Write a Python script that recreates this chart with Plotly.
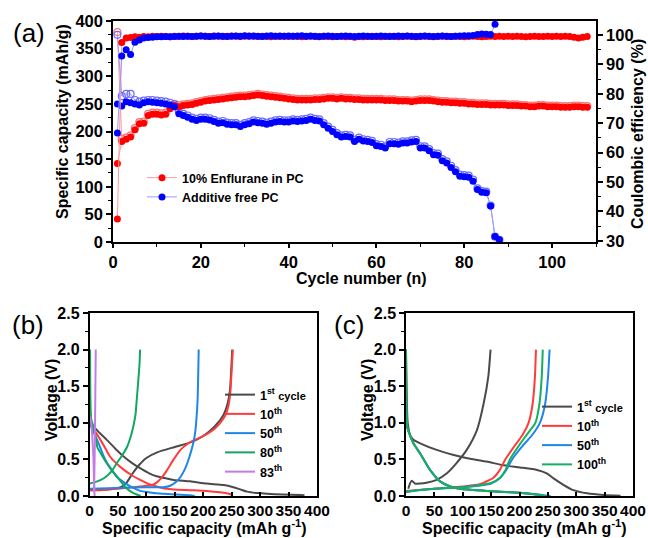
import plotly.graph_objects as go

FONT = "Liberation Sans"

# ---------------- Panel (a) data ----------------
cycles_red = list(range(1, 109))
red_charge = [142,182,186,190,203,214,215,229,231,231,
              230,231,241,247,245,247,248,249,251,253,
              255,256,257,258,259,260,261,262,263,263,
              264,265,266,265,264,263,262,261,260,259,
              258,257,257,257,257,258,258,259,260,260,
              259,260,259,259,258,258,257,257,257,257,
              257,256,256,256,255,255,255,254,255,256,
              256,256,255,254,253,253,252,252,251,251,
              250,250,249,249,249,248,248,248,248,247,
              247,247,246,246,245,245,246,246,245,245,
              245,244,244,244,245,245,244,244]
red_discharge = [380,187,189,193,206,217,218,232,234,234,
                 233,234,244,250,248,249,250,251,253,255,
                 257,258,259,260,261,262,263,264,265,265,
                 266,267,268,267,266,265,264,263,262,261,
                 260,259,259,259,259,260,260,261,262,262,
                 261,262,261,261,260,260,259,259,259,259,
                 259,258,258,258,257,257,257,256,257,258,
                 258,258,257,256,255,255,254,254,253,253,
                 252,252,251,251,251,250,250,250,250,249,
                 249,249,248,248,247,247,248,248,247,247,
                 247,246,246,246,247,247,246,246]
red_ce = [37.4,97.5,99.0,99.2,99.4,99.3,99.5,99.4,99.6,99.5,
          99.6,99.5,99.4,99.6,99.5,99.7,99.6,99.5,99.6,99.7,
          99.6,99.5,99.7,99.6,99.5,99.6,99.7,99.6,99.5,99.6,
          99.7,99.6,99.5,99.6,99.5,99.4,99.6,99.5,99.6,99.5,
          99.6,99.5,99.4,99.5,99.6,99.5,99.4,99.6,99.5,99.4,
          99.5,99.6,99.4,99.5,99.3,99.5,99.4,99.5,99.6,99.5,
          99.4,99.5,99.6,99.5,99.4,99.5,99.6,99.5,99.4,99.5,
          99.6,99.5,99.4,99.5,99.6,99.5,99.5,99.6,99.5,99.4,
          99.5,99.6,99.5,99.4,99.5,99.6,99.5,99.6,99.5,99.6,
          99.5,99.6,99.5,99.4,99.5,99.6,99.5,99.5,99.6,99.5,
          99.6,99.5,99.6,99.5,99.3,99.0,99.3,99.5]

cycles_blue = list(range(1, 89))
blue_charge = [250,246,254,252,250,248,252,254,253,252,
               251,250,248,245,232,229,226,222,220,222,
               222,221,218,215,216,213,212,212,209,212,
               214,217,216,215,213,215,217,218,217,217,
               219,218,219,220,222,220,219,212,206,200,
               194,190,191,190,182,186,183,182,180,174,
               173,170,178,178,177,179,179,181,182,170,
               170,165,158,157,147,143,135,127,119,118,
               117,110,95,90,89,65,10,4]
blue_discharge = [375,264,268,268,257,254,256,257,257,256,
                  255,254,252,249,236,232,229,225,223,225,
                  225,224,221,218,219,216,215,215,212,215,
                  217,220,219,218,216,218,220,221,220,220,
                  222,221,222,223,225,223,222,215,209,203,
                  197,193,194,193,185,189,186,185,183,177,
                  176,173,181,181,180,182,182,184,185,173,
                  173,168,161,160,150,146,138,130,122,121,
                  120,113,97,92,91,66,9.6,4]
cycles_blue_ce = list(range(1, 88))
blue_ce = [66.7,92.9,95.0,93.4,97.6,98.3,99.0,99.2,99.3,99.4,
           99.4,99.5,99.4,99.5,99.6,99.5,99.6,99.5,99.6,99.7,
           99.6,99.5,99.6,99.7,99.6,99.5,99.6,99.7,99.6,99.8,
           99.6,99.7,99.6,99.5,99.7,99.8,99.6,99.7,99.6,99.7,
           99.6,99.7,99.8,99.6,99.7,99.6,99.5,99.6,99.7,99.6,
           99.5,99.6,99.7,99.6,99.5,99.6,99.7,99.6,99.5,99.6,
           99.7,99.6,99.5,99.6,99.7,99.6,99.7,99.6,99.5,99.6,
           99.7,99.6,99.5,99.6,99.7,99.6,99.5,99.6,99.7,99.8,
           99.8,99.9,100.2,100.4,100.3,100.2,103.7]

# ---------------- Panel (b) data: additive free PC ----------------
b_names = ["1<sup>st</sup> <span style='font-size:11px'>cycle</span>", "10<sup>th</sup>", "50<sup>th</sup>", "80<sup>th</sup>", "83<sup>th</sup>"]
b_colors = ["#4a4a4a", "#ff3b3b", "#1f86e8", "#10a860", "#c37be6"]

b1_dis_cap = [0, 7, 18, 30, 45, 60, 75, 89, 105, 118, 135, 148, 177, 206, 236, 253, 265, 277, 295, 312, 340, 371, 378]
b1_dis_v = [1.05, 0.95, 0.86, 0.77, 0.65, 0.54, 0.45, 0.38, 0.31, 0.27, 0.24, 0.22, 0.20, 0.17, 0.15, 0.12, 0.09, 0.06, 0.04, 0.03, 0.02, 0.012, 0.01]
b1_chg_cap = [0, 30, 55, 65, 75, 88, 100, 120, 150, 180, 200, 220, 235, 243, 247, 249, 251]
b1_chg_v = [0.08, 0.09, 0.12, 0.18, 0.30, 0.43, 0.52, 0.60, 0.67, 0.74, 0.82, 0.95, 1.10, 1.27, 1.45, 1.7, 2.0]

b10_dis_cap = [0, 10, 19, 28, 36, 48, 60, 75, 89, 105, 118, 135, 148, 180, 206, 230, 245, 252]
b10_dis_v = [1.0, 0.88, 0.77, 0.65, 0.54, 0.44, 0.36, 0.28, 0.22, 0.16, 0.13, 0.10, 0.09, 0.08, 0.07, 0.05, 0.03, 0.01]
b10_chg_cap = [0, 19, 50, 89, 110, 119, 128, 136, 148, 160, 172, 183, 195, 207, 220, 231, 240, 245, 248, 250, 252]
b10_chg_v = [0.08, 0.08, 0.10, 0.13, 0.15, 0.19, 0.26, 0.35, 0.50, 0.63, 0.71, 0.76, 0.80, 0.85, 0.92, 1.01, 1.12, 1.26, 1.45, 1.72, 2.0]

b50_dis_cap = [0, 8, 16, 23, 31, 40, 48, 60, 72, 89, 105, 118, 150, 177, 185]
b50_dis_v = [1.0, 0.86, 0.72, 0.58, 0.45, 0.35, 0.26, 0.19, 0.13, 0.07, 0.05, 0.036, 0.02, 0.01, 0.0]
b50_chg_cap = [0, 50, 100, 130, 142, 152, 160, 166, 171, 175, 179, 183, 186, 188, 190, 191, 192]
b50_chg_v = [0.10, 0.11, 0.12, 0.12, 0.14, 0.19, 0.26, 0.34, 0.43, 0.52, 0.62, 0.74, 0.88, 1.05, 1.3, 1.6, 2.0]

b80_dis_cap = [1, 1.5, 3, 8, 12, 14, 20, 30, 40, 48, 57, 66, 75, 83, 90]
b80_dis_v = [2.0, 1.4, 1.05, 0.92, 0.75, 0.66, 0.58, 0.45, 0.34, 0.27, 0.18, 0.10, 0.05, 0.02, 0.0]
b80_chg_cap = [0, 10, 20, 30, 40, 48, 57, 66, 72, 77, 81, 83, 86, 88, 89]
b80_chg_v = [0.17, 0.19, 0.22, 0.27, 0.35, 0.45, 0.55, 0.67, 0.80, 0.95, 1.12, 1.31, 1.6, 1.81, 2.0]

b83_dis_cap = [0, 3, 5, 7, 8, 9]
b83_dis_v = [1.1, 1.0, 0.8, 0.5, 0.2, 0.0]
b83_chg_cap = [8, 9, 10, 10.5, 11]
b83_chg_v = [0.05, 0.5, 1.2, 1.6, 2.0]

# ---------------- Panel (c) data: 10% enflurane in PC ----------------
c_names = ["1<sup>st</sup> <span style='font-size:11px'>cycle</span>", "10<sup>th</sup>", "50<sup>th</sup>", "100<sup>th</sup>"]
c_colors = ["#4a4a4a", "#ff3b3b", "#1f86e8", "#12b060"]

c1_dis_cap = [0, 1, 3, 8, 13, 25, 54, 84, 113, 142, 172, 201, 231, 248, 260, 278, 295, 319, 348, 378]
c1_dis_v = [2.0, 1.5, 1.0, 0.82, 0.77, 0.72, 0.63, 0.56, 0.51, 0.47, 0.42, 0.39, 0.355, 0.31, 0.24, 0.15, 0.08, 0.036, 0.014, 0.005]
c1_chg_cap = [4, 7, 10, 13, 16, 25, 36, 54, 72, 89, 107, 125, 137, 145, 149]
c1_chg_v = [0.10, 0.17, 0.21, 0.19, 0.17, 0.17, 0.18, 0.22, 0.31, 0.45, 0.63, 0.90, 1.27, 1.63, 2.0]

c10_dis_cap = [0, 0.5, 2, 6, 13, 25, 42, 60, 78, 95, 142, 201, 230, 240]
c10_dis_v = [2.0, 1.3, 0.95, 0.85, 0.72, 0.58, 0.36, 0.2, 0.13, 0.1, 0.07, 0.045, 0.02, 0.01]
c10_chg_cap = [0, 50, 100, 130, 154, 165, 175, 190, 205, 216, 223, 227, 229]
c10_chg_v = [0.07, 0.10, 0.13, 0.16, 0.25, 0.35, 0.5, 0.67, 0.83, 1.0, 1.25, 1.6, 2.0]

c50_dis_cap = [0, 0.5, 2, 6, 13, 25, 42, 60, 78, 95, 142, 201, 240, 255]
c50_dis_v = [2.0, 1.3, 0.95, 0.85, 0.72, 0.58, 0.36, 0.2, 0.13, 0.1, 0.07, 0.04, 0.015, 0.0]
c50_chg_cap = [0, 20, 50, 100, 150, 166, 177, 187, 205, 222, 236, 245, 250, 253]
c50_chg_v = [0.05, 0.08, 0.10, 0.12, 0.17, 0.25, 0.36, 0.5, 0.68, 0.83, 1.0, 1.25, 1.6, 2.0]

c100_dis_cap = [0, 0.5, 2, 6, 13, 25, 42, 60, 78, 95, 142, 201, 235, 247]
c100_dis_v = [2.0, 1.3, 0.95, 0.85, 0.72, 0.58, 0.36, 0.2, 0.13, 0.1, 0.07, 0.045, 0.015, 0.0]
c100_chg_cap = [0, 50, 100, 150, 166, 175, 183, 200, 215, 228, 235, 239, 241]
c100_chg_v = [0.06, 0.10, 0.12, 0.18, 0.25, 0.35, 0.5, 0.7, 0.86, 1.0, 1.25, 1.6, 2.0]

b_curves = [(b1_dis_cap, b1_dis_v, b1_chg_cap, b1_chg_v),
            (b10_dis_cap, b10_dis_v, b10_chg_cap, b10_chg_v),
            (b50_dis_cap, b50_dis_v, b50_chg_cap, b50_chg_v),
            (b80_dis_cap, b80_dis_v, b80_chg_cap, b80_chg_v),
            (b83_dis_cap, b83_dis_v, b83_chg_cap, b83_chg_v)]
c_curves = [(c1_dis_cap, c1_dis_v, c1_chg_cap, c1_chg_v),
            (c10_dis_cap, c10_dis_v, c10_chg_cap, c10_chg_v),
            (c50_dis_cap, c50_dis_v, c50_chg_cap, c50_chg_v),
            (c100_dis_cap, c100_dis_v, c100_chg_cap, c100_chg_v)]

W, H = 648, 538
def px(x):
    return x / W
def py(y):
    return 1 - y / H

fig = go.Figure()

RED, RED_L, RED_O = "#ff0000", "#ff9a9a", "#ff7070"
BLUE, BLUE_L, BLUE_O = "#0000ff", "#9a9aff", "#6b6bff"
MS = 7

# open symbols (discharge capacity) first, behind
fig.add_trace(go.Scatter(x=cycles_red, y=red_discharge, mode="lines+markers",
                         line=dict(color=RED_L, width=1),
                         marker=dict(symbol="circle-open", size=MS, color=RED_O, line=dict(width=1.2)),
                         showlegend=False, cliponaxis=False, xaxis="x", yaxis="y"))
fig.add_trace(go.Scatter(x=cycles_blue, y=blue_discharge, mode="lines+markers",
                         line=dict(color=BLUE_L, width=1),
                         marker=dict(symbol="circle-open", size=MS, color=BLUE_O, line=dict(width=1.2)),
                         showlegend=False, cliponaxis=False, xaxis="x", yaxis="y"))
# filled (charge capacity)
fig.add_trace(go.Scatter(x=cycles_red, y=red_charge, mode="lines+markers", name="10% Enflurane in PC",
                         line=dict(color=RED_L, width=1),
                         marker=dict(symbol="circle", size=MS, color=RED),
                         legend="legend", cliponaxis=False, xaxis="x", yaxis="y"))
fig.add_trace(go.Scatter(x=cycles_blue, y=blue_charge, mode="lines+markers", name="Additive free PC",
                         line=dict(color=BLUE_L, width=1),
                         marker=dict(symbol="circle", size=MS, color=BLUE),
                         legend="legend", cliponaxis=False, xaxis="x", yaxis="y"))
# coulombic efficiency
fig.add_trace(go.Scatter(x=cycles_red, y=red_ce, mode="lines+markers",
                         line=dict(color=RED_L, width=1),
                         marker=dict(symbol="circle", size=MS, color=RED),
                         showlegend=False, cliponaxis=False, xaxis="x", yaxis="y2"))
fig.add_trace(go.Scatter(x=cycles_blue_ce, y=blue_ce, mode="lines+markers",
                         line=dict(color=BLUE_L, width=1),
                         marker=dict(symbol="circle", size=MS, color=BLUE),
                         showlegend=False, cliponaxis=False, xaxis="x", yaxis="y2"))

def add_curves(curves, names, colors, xa, ya, leg):
    for (dc, dv, cc, cv), nm, col in zip(curves, names, colors):
        fig.add_trace(go.Scatter(x=list(dc) + [None] + list(cc), y=list(dv) + [None] + list(cv),
                                 mode="lines", name=nm,
                                 line=dict(color=col, width=2, shape="spline", smoothing=0.6),
                                 connectgaps=False, legend=leg, xaxis=xa, yaxis=ya))

add_curves(b_curves, b_names, b_colors, "x2", "y3", "legend2")
add_curves(c_curves, c_names, c_colors, "x3", "y4", "legend3")

def axis_common(size, ticks="outside", ticklen=5):
    return dict(showline=True, linecolor="black", linewidth=1.5, ticks=ticks,
                ticklen=ticklen, tickwidth=1.5, tickcolor="black", showgrid=False, zeroline=False,
                tickangle=0,
                tickfont=dict(family=FONT, size=size, color="black", weight="bold"))

A_X = [px(113), px(596)]
A_Y = [py(242), py(21)]
B_X = [px(89.5), px(317)]
C_X = [px(406), px(633)]
BC_Y = [py(496), py(313)]
MINOR = dict(ticklen=3, tickwidth=1.2, ticks="outside")

fig.update_layout(
    width=W, height=H, autosize=False,
    margin=dict(l=0, r=0, t=0, b=0, autoexpand=False),
    paper_bgcolor="white", plot_bgcolor="white",
    font=dict(family=FONT, color="black"),
    xaxis=dict(domain=A_X, anchor="y", range=[0, 110], dtick=20, mirror=True,
               minor=dict(dtick=10, **MINOR), **axis_common(16.5, "outside", 4)),
    yaxis=dict(domain=A_Y, anchor="x", range=[0, 400], dtick=50,
               minor=dict(dtick=25, **MINOR), **axis_common(16.5)),
    yaxis2=dict(overlaying="y", anchor="x", side="right", range=[29.6, 104.8], dtick=10, tick0=30,
                minor=dict(dtick=5, **MINOR), **axis_common(16.5)),
    xaxis2=dict(domain=B_X, anchor="y3", range=[0, 400], dtick=50, mirror=True,
                **axis_common(15.5, "inside", 4)),
    yaxis3=dict(domain=BC_Y, anchor="x2", range=[0, 2.5], dtick=0.5, tickformat=".1f", mirror=True,
                minor=dict(dtick=0.25, **MINOR), **axis_common(16)),
    xaxis3=dict(domain=C_X, anchor="y4", range=[0, 400], dtick=50, mirror=True,
                **axis_common(15.5, "inside", 4)),
    yaxis4=dict(domain=BC_Y, anchor="x3", range=[0, 2.5], dtick=0.5, tickformat=".1f", mirror=True,
                minor=dict(dtick=0.25, **MINOR), **axis_common(16)),
    legend=dict(x=px(142), y=py(163), xanchor="left", yanchor="top", bgcolor="rgba(0,0,0,0)",
                font=dict(family=FONT, size=12.5, weight="bold"), tracegroupgap=0),
    legend2=dict(x=px(220), y=py(380), xanchor="left", yanchor="top", bgcolor="rgba(0,0,0,0)",
                 font=dict(family=FONT, size=12.5, weight="bold"), tracegroupgap=0),
    legend3=dict(x=px(537), y=py(392), xanchor="left", yanchor="top", bgcolor="rgba(0,0,0,0)",
                 font=dict(family=FONT, size=12.5, weight="bold"), tracegroupgap=0),
)

title_font = dict(family=FONT, size=16, color="black", weight="bold")
ann = [
    dict(text="Specific capacity (mAh/g)", x=px(63), y=py(122), textangle=-90, font=title_font),
    dict(text="Coulombic efficiency (%)", x=px(637), y=py(134), textangle=-90, font=title_font),
    dict(text="Cycle number (n)", x=px(361), y=py(278), font=title_font),
    dict(text="Voltage (V)", x=px(51), y=py(400), textangle=-90, font=title_font),
    dict(text="Specific capacity (mAh g<sup>-1</sup>)", x=px(204), y=py(527), font=title_font),
    dict(text="Voltage (V)", x=px(367), y=py(400), textangle=-90, font=title_font),
    dict(text="Specific capacity (mAh g<sup>-1</sup>)", x=px(524), y=py(527), font=title_font),
    dict(text="(a)", x=px(29), y=py(33), font=dict(family=FONT, size=26, color="black")),
    dict(text="(b)", x=px(28), y=py(325), font=dict(family=FONT, size=26, color="black")),
    dict(text="(c)", x=px(349), y=py(325), font=dict(family=FONT, size=26, color="black")),
]
for a in ann:
    fig.add_annotation(xref="paper", yref="paper", showarrow=False, xanchor="center", yanchor="middle", **a)

fig.write_html("out.html", config={"displayModeBar": False},
               post_script="document.body.style.margin='0';document.body.style.overflow='hidden';")
